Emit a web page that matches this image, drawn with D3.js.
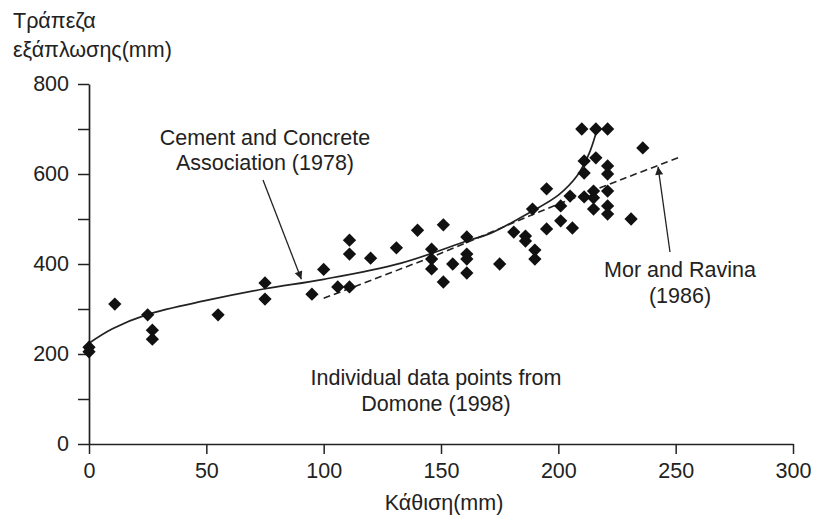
<!DOCTYPE html>
<html>
<head>
<meta charset="utf-8">
<script src="https://cdn.jsdelivr.net/npm/d3@7"></script>
<style>
  html, body { margin: 0; padding: 0; background: #fff; }
  svg { display: block; }
  text { font-family: "Liberation Sans", Arial, sans-serif; fill: #222; }
</style>
</head>
<body>
<svg id="chart" width="815" height="516"></svg>
<script>
// Slump (mm) vs flow table spread (mm)
const slump = [0, 0, 11, 25, 27, 27, 55, 75, 75, 95, 100, 106, 111, 111, 111, 120, 131, 140,
  146, 146, 146, 151, 151, 155, 161, 161, 161, 161, 175, 181, 186, 186, 190, 190, 189,
  195, 195, 201, 201, 205, 206, 210, 216, 221, 211, 211, 211, 216, 215, 215, 215,
  221, 221, 221, 221, 221, 231, 236];
const spread = [205, 215, 311, 287, 253, 233, 287, 358, 322, 333, 388, 349, 349, 453, 422, 413, 436, 475,
  433, 411, 389, 487, 360, 400, 460, 422, 411, 380, 400, 471, 462, 451, 431, 411, 522,
  567, 478, 529, 496, 551, 480, 700, 700, 700, 629, 602, 549, 636, 562, 547, 522,
  618, 600, 562, 529, 511, 500, 658];

// Cement and Concrete Association (1978) relationship
const ccaSlump = [0, 10, 25, 50, 75, 100, 133, 161, 171, 188, 200, 208, 213, 216];
const ccaSpread = [224, 256, 288, 319, 345, 366, 402, 451, 468, 515, 553, 596, 644, 690];

// Mor and Ravina (1986) relationship
const mrSlump = [100, 150, 192, 228, 252];
const mrSpread = [324, 424, 516, 590, 638];

const xTicks = [0, 50, 100, 150, 200, 250, 300];
const yTicks = [0, 100, 200, 300, 400, 500, 600, 700, 800];
const yLabels = [0, 200, 400, 600, 800];

const svg = d3.select("#chart");
const m = { left: 89, right: 22, top: 84, bottom: 72 };
const W = 815, H = 516;

const x = d3.scaleLinear().domain([0, 300]).range([m.left, W - m.right]);
const y = d3.scaleLinear().domain([0, 800]).range([H - m.bottom, m.top]);

const ink = "#222";
const fs = "21.5px";

// arrowhead marker
svg.append("defs").append("marker")
  .attr("id", "arrow")
  .attr("viewBox", "0 0 10 10")
  .attr("refX", 10).attr("refY", 5)
  .attr("markerWidth", 12).attr("markerHeight", 8)
  .attr("markerUnits", "userSpaceOnUse")
  .attr("orient", "auto")
  .append("path").attr("d", "M0,0 L10,5 L0,10 Z").attr("fill", ink);

// axes
const xAxis = svg.append("g")
  .attr("transform", `translate(0,${y(0)})`)
  .call(d3.axisBottom(x).tickValues(xTicks).tickSize(10).tickPadding(9).tickSizeOuter(0));
const yAxis = svg.append("g")
  .attr("transform", `translate(${x(0)},0)`)
  .call(d3.axisLeft(y).tickValues(yTicks).tickSize(11).tickPadding(9).tickSizeOuter(0)
    .tickFormat(d => yLabels.includes(d) ? d : ""));

[xAxis, yAxis].forEach(g => {
  g.select(".domain").attr("stroke", ink).attr("stroke-width", 1.7);
  g.selectAll(".tick line").attr("stroke", ink).attr("stroke-width", 1.5);
  g.selectAll(".tick text")
    .style("font-family", "'Liberation Sans', Arial, sans-serif")
    .style("font-size", fs).attr("fill", "#2a2a2a");
});

// axis titles
svg.append("text").attr("x", 13).attr("y", 28).style("font-size", fs).text("Τράπεζα");
svg.append("text").attr("x", 13).attr("y", 57).style("font-size", fs).text("εξάπλωσης(mm)");
svg.append("text").attr("x", 444).attr("y", 510).attr("text-anchor", "middle")
  .style("font-size", fs).text("Κάθιση(mm)");

// reference curves
const cca = ccaSlump.map((s, i) => [s, ccaSpread[i]]);
const mr = mrSlump.map((s, i) => [s, mrSpread[i]]);
const line = d3.line().x(d => x(d[0])).y(d => y(d[1])).curve(d3.curveCatmullRom.alpha(0.5));

svg.append("path").datum(mr).attr("d", line)
  .attr("fill", "none").attr("stroke", ink).attr("stroke-width", 1.6)
  .attr("stroke-dasharray", "7,4");
svg.append("path").datum(cca).attr("d", line)
  .attr("fill", "none").attr("stroke", ink).attr("stroke-width", 1.7);

// data points (diamonds)
const diamond = d3.symbol().type(d3.symbolSquare).size(88);
svg.append("g").selectAll("path").data(slump).join("path")
  .attr("d", diamond)
  .attr("transform", (d, i) => `translate(${x(d)},${y(spread[i])}) rotate(45)`)
  .attr("fill", "#111");

// annotations
function note(lines, cx, baselines) {
  lines.forEach((t, i) => svg.append("text")
    .attr("x", cx).attr("y", baselines[i]).attr("text-anchor", "middle")
    .style("font-size", fs).text(t));
}
note(["Cement and Concrete", "Association (1978)"], 265, [145, 170]);
note(["Mor and Ravina", "(1986)"], 680, [277, 303]);
note(["Individual data points from", "Domone (1998)"], 436, [385, 411]);

// arrows
svg.append("line")
  .attr("x1", 263).attr("y1", 180)
  .attr("x2", x(90.5)).attr("y2", y(366))
  .attr("stroke", ink).attr("stroke-width", 1.3).attr("marker-end", "url(#arrow)");
svg.append("line")
  .attr("x1", 670).attr("y1", 252)
  .attr("x2", x(242.5)).attr("y2", y(616))
  .attr("stroke", ink).attr("stroke-width", 1.3).attr("marker-end", "url(#arrow)");
</script>
</body>
</html>
